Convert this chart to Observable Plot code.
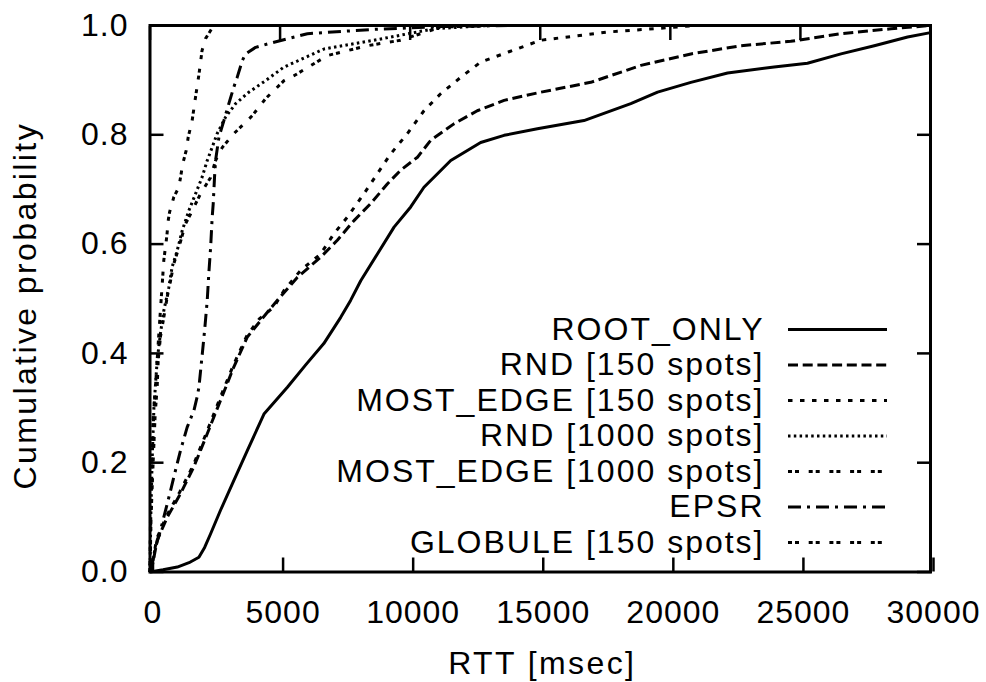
<!DOCTYPE html>
<html><head><meta charset="utf-8">
<script src="https://cdn.jsdelivr.net/npm/d3@7"></script>
<script src="https://cdn.jsdelivr.net/npm/@observablehq/plot@0.6"></script>
<style>body{margin:0;background:#fff}svg{display:block}</style>
</head><body><div id="chart"></div>
<script>
// ---- data ----
const xTicks = [0, 5000, 10000, 15000, 20000, 25000, 30000];
const yTicks = [0, 0.2, 0.4, 0.6, 0.8, 1.0];
const xTitle = "RTT [msec]";
const yTitle = "Cumulative probability";
const seriesNames = ["ROOT_ONLY", "RND [150 spots]", "MOST_EDGE [150 spots]", "RND [1000 spots]", "MOST_EDGE [1000 spots]", "EPSR", "GLOBULE [150 spots]"];

const rootOnly = [[0,0],[500,0.004],[1050,0.009],[1500,0.017],[1880,0.027],[2100,0.045],[2330,0.07],[2710,0.113],[3220,0.167],[3740,0.222],[4380,0.289],[5280,0.338],[6000,0.38],[6680,0.418],[7330,0.466],[7710,0.497],[8100,0.533],[8740,0.582],[9380,0.631],[10020,0.668],[10530,0.704],[11560,0.753],[12710,0.786],[13610,0.799],[14890,0.811],[16680,0.826],[18480,0.857],[19510,0.878],[20790,0.896],[22200,0.913],[23990,0.924],[25270,0.931],[26560,0.948],[27840,0.963],[29120,0.979],[30000,0.987]];
const rnd150 = [[0,0],[80,0.009],[275,0.058],[660,0.1],[1170,0.143],[1680,0.192],[2200,0.253],[2710,0.314],[3220,0.375],[3740,0.43],[4250,0.46],[4890,0.497],[5660,0.539],[6560,0.576],[7200,0.607],[7840,0.643],[8480,0.674],[9120,0.71],[9630,0.735],[10280,0.759],[10790,0.79],[11680,0.82],[12580,0.844],[13610,0.863],[15020,0.878],[16940,0.896],[18870,0.927],[20790,0.948],[22710,0.963],[24630,0.971],[26560,0.985],[28480,0.994],[30000,1.0]];
const mostEdge150 = [[0,0],[80,0.01],[250,0.06],[640,0.103],[1150,0.147],[1660,0.195],[2180,0.256],[2690,0.318],[3200,0.378],[3720,0.432],[4200,0.463],[4760,0.485],[5150,0.515],[5790,0.552],[6560,0.582],[7070,0.619],[7580,0.649],[8220,0.692],[8740,0.729],[9250,0.765],[9890,0.802],[10530,0.844],[11170,0.875],[11940,0.905],[12710,0.933],[13800,0.952],[15020,0.973],[17580,0.988],[19890,0.996],[21000,1.0],[30000,1.0]];
const rnd1000 = [[0,0],[30,0.1],[80,0.2],[150,0.3],[275,0.387],[400,0.436],[530,0.478],[725,0.521],[850,0.558],[1045,0.588],[1240,0.625],[1490,0.661],[1750,0.692],[2000,0.722],[2200,0.753],[2390,0.777],[2580,0.802],[2900,0.832],[3290,0.857],[3800,0.878],[4440,0.899],[5150,0.924],[6690,0.957],[8610,0.973],[10920,0.994],[13000,1.0],[30000,1.0]];
const mostEdge1000 = [[0,0],[40,0.1],[120,0.2],[200,0.29],[275,0.338],[315,0.387],[400,0.43],[530,0.466],[660,0.503],[790,0.533],[915,0.564],[1110,0.594],[1365,0.637],[1560,0.655],[1940,0.692],[2330,0.722],[2520,0.753],[2780,0.777],[3220,0.802],[3930,0.835],[4440,0.866],[5150,0.899],[5530,0.908],[6820,0.945],[8350,0.963],[9630,0.973],[11170,0.997],[13000,1.0],[30000,1.0]];
const epsr = [[0,0],[210,0.045],[400,0.076],[600,0.113],[790,0.149],[980,0.186],[1170,0.222],[1430,0.265],[1690,0.296],[1810,0.32],[1880,0.338],[2010,0.399],[2110,0.448],[2200,0.497],[2260,0.546],[2330,0.594],[2390,0.649],[2430,0.674],[2480,0.722],[2520,0.753],[2650,0.796],[2840,0.826],[3030,0.857],[3220,0.887],[3350,0.905],[3550,0.936],[3670,0.948],[4060,0.96],[4570,0.967],[6050,0.985],[8610,0.993],[11170,0.998],[14000,1.0],[30000,1.0]];
const globule150 = [[0,0],[20,0.1],[60,0.2],[120,0.28],[210,0.338],[275,0.387],[340,0.436],[400,0.478],[470,0.527],[530,0.57],[600,0.597],[650,0.616],[700,0.643],[750,0.658],[915,0.686],[1110,0.704],[1260,0.747],[1390,0.771],[1470,0.796],[1620,0.826],[1750,0.869],[1880,0.91],[2000,0.954],[2135,0.976],[2450,1.0],[30000,1.0]];

const seriesData = [rootOnly, rnd150, mostEdge150, rnd1000, mostEdge1000, epsr, globule150];

// ---- style ----
const dashes = [null, "10,4.7", "4.5,7.5", "2.5,3.3", "4,3,4,9.7", "13,6,3,6", "4,3,4,9.7"];
const FONT = "'Liberation Sans', Helvetica, Arial, sans-serif";
const FS = 32;

const W = 986, H = 682;
const mL = 149.5, mR = 56, mT = 25, mB = 110.5;
const tickLen = -14;

const lineMarks = seriesData.map((d, i) => Plot.line(d, {
  x: p => p[0], y: p => p[1],
  stroke: "black", strokeWidth: 3,
  strokeDasharray: dashes[i] || undefined,
  strokeLinecap: "butt", strokeLinejoin: "round"
}));

const legendText = seriesNames.map((name, i) => Plot.text([name], {
  frameAnchor: "top-left", text: d => d, textAnchor: "end", lineAnchor: "middle",
  dx: 764 - mL, dy: 304 + 35.5 * i, fontSize: FS, fill: "black", className: "legend-text"
}));

const plot = Plot.plot({
  width: W, height: H,
  marginLeft: mL, marginRight: mR, marginTop: mT, marginBottom: mB,
  style: {fontFamily: FONT, fontSize: FS + "px", color: "black", background: "white"},
  x: {domain: [0, 30000], axis: null},
  y: {domain: [0, 1], axis: null},
  marks: [
    ...lineMarks,
    Plot.axisX({anchor: "bottom", ticks: xTicks, tickSize: tickLen, tickPadding: 42.5, strokeWidth: 2.5,
      tickFormat: d => String(d), label: null, fontSize: FS, dx: 3, lineAnchor: "top", className: "tick-text"}),
    Plot.axisX({anchor: "top", ticks: xTicks, tickSize: tickLen, strokeWidth: 2.5, tickFormat: () => "", label: null}),
    Plot.axisY({anchor: "left", ticks: yTicks, tickSize: tickLen, tickPadding: 35.5, strokeWidth: 2.5,
      tickFormat: d3.format(".1f"), label: null, fontSize: FS, className: "tick-text"}),
    Plot.axisY({anchor: "right", ticks: yTicks, tickSize: tickLen, strokeWidth: 2.5, tickFormat: () => "", label: null}),
    Plot.frame({stroke: "black", strokeWidth: 3}),
    Plot.text([xTitle], {frameAnchor: "bottom", text: d => d, textAnchor: "middle", lineAnchor: "middle", dx: 2, dy: 92, fontSize: FS, className: "title-text"}),
    Plot.text([yTitle], {frameAnchor: "left", text: d => d, textAnchor: "middle", rotate: -90, lineAnchor: "middle", dx: -124.5, dy: 7, fontSize: FS, className: "title-text"}),
    ...legendText
  ]
});

// letter spacing to match the reference's wider text setting
d3.select(plot).selectAll("text").style("letter-spacing", "1px");
d3.select(plot).selectAll(".legend-text text").style("letter-spacing", "2px");
d3.select(plot).selectAll(".title-text text").style("letter-spacing", "2.4px");

// legend sample lines
const svg = d3.select(plot);
seriesNames.forEach((name, i) => {
  svg.append("line")
    .attr("x1", 788).attr("x2", 887)
    .attr("y1", 329.5 + 35.5 * i).attr("y2", 329.5 + 35.5 * i)
    .attr("stroke", "black").attr("stroke-width", 3)
    .attr("stroke-linecap", "butt")
    .attr("stroke-dasharray", dashes[i] || null);
});

document.getElementById("chart").appendChild(plot);
</script>
</body></html>
